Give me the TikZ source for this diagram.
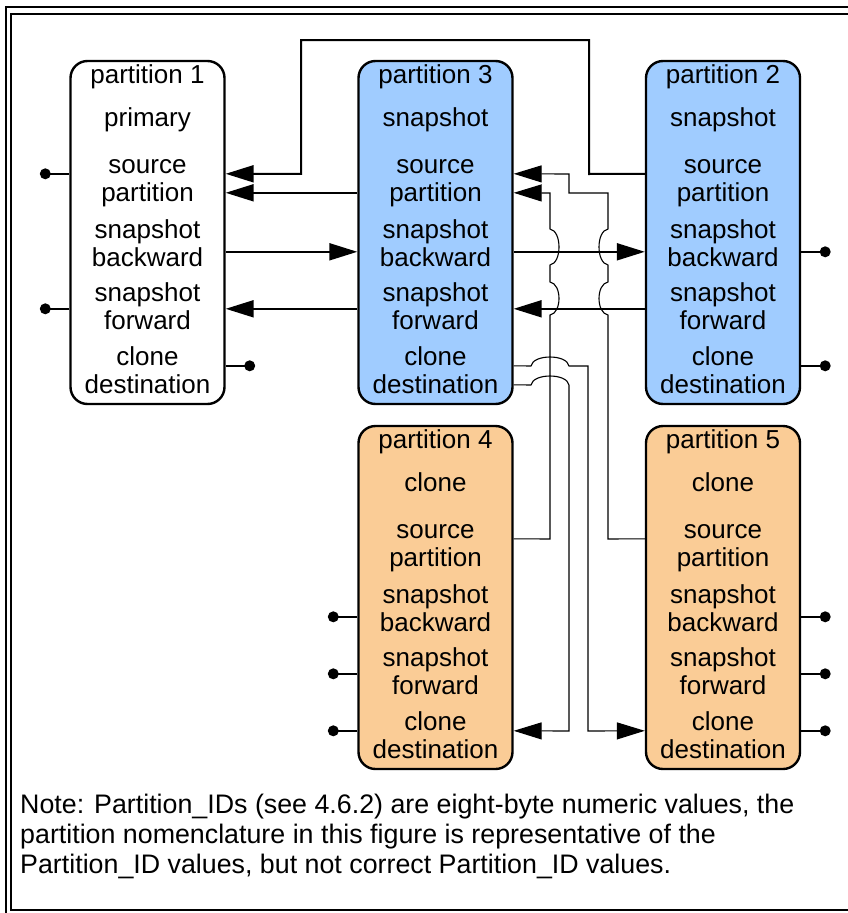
\documentclass[tikz,border=0pt]{standalone}
\usepackage{fontspec}
\setmainfont{Liberation Sans}
\usepackage{tikz}
\usetikzlibrary{arrows.meta, positioning}
\definecolor{snapblue}{RGB}{160,204,255}
\definecolor{cloneorange}{RGB}{250,204,150}
\newcommand{\partfont}{\fontsize{26}{26}\selectfont}
\newcommand{\notefont}{\fontsize{26.8}{30}\selectfont}
\tikzset{>={Triangle[length=28pt,width=17pt]}}
\tikzstyle{partbox}=[shape=rectangle,rounded corners=17pt,draw=black,line width=2.4pt,minimum width=154pt,minimum height=343pt]
\tikzstyle{field}=[align=center,font=\partfont,inner sep=0pt]
\tikzstyle{mainedge}=[<-,line width=2pt]
\tikzstyle{routedge}=[<-,line width=1.1pt]
\tikzstyle{stub}=[line width=2pt]
\tikzstyle{dot}=[shape=circle,fill=black,inner sep=0pt,minimum size=11pt]

\begin{document}
\begin{tikzpicture}[x=1pt,y=-1pt]
\useasboundingbox (0,0) rectangle (848,913);
\clip (0,0) rectangle (848,913);
% frame
\draw[line width=2pt] (5.5,6.5) rectangle (880,940);
\draw[line width=2pt] (11,13.5) rectangle (870,910);

% partitions
\foreach \n/\x/\y/\col/\role in {1/147.5/232.5/white/primary,
    3/435.5/232.5/snapblue/snapshot, 2/723/232.5/snapblue/snapshot,
    4/435.5/597.5/cloneorange/clone, 5/723/597.5/cloneorange/clone} {
  \node[partbox,fill=\col] (p\n) at (\x,\y) {};
  \node[field] (p\n_t) at ([yshift=-18pt]p\n.north) {\strut partition \n};
  \node[field] (p\n_r) at ([yshift=-61pt]p\n.north) {\strut \role};
  \node[field] (p\n_s) at ([yshift=-122.5pt]p\n.north) {\strut source\\\strut partition};
  \node[field] (p\n_b) at ([yshift=-187pt]p\n.north) {\strut snapshot\\\strut backward};
  \node[field] (p\n_f) at ([yshift=-250pt]p\n.north) {\strut snapshot\\\strut forward};
  \node[field] (p\n_c) at ([yshift=-314pt]p\n.north) {\strut clone\\\strut destination};
  \coordinate (p\n_sa) at ([yshift=-114pt]p\n.north);
  \coordinate (p\n_sb) at ([yshift=-133pt]p\n.north);
  \coordinate (p\n_bw) at ([yshift=-192pt]p\n.north);
  \coordinate (p\n_fw) at ([yshift=-249pt]p\n.north);
  \coordinate (p\n_ca) at ([yshift=-306pt]p\n.north);
  \coordinate (p\n_cb) at ([yshift=-325pt]p\n.north);
}

% open ends
\draw[stub] (p1.west |- p1_sa) -- ++(-24,0) node[dot] (p1_sadot) {};
\draw[stub] (p1.west |- p1_fw) -- ++(-24,0) node[dot] (p1_fwdot) {};
\draw[stub] (p1.east |- p1_ca) -- ++(24,0) node[dot] (p1_cadot) {};
\draw[stub] (p2.east |- p2_bw) -- ++(24,0) node[dot] (p2_bwdot) {};
\draw[stub] (p2.east |- p2_ca) -- ++(24,0) node[dot] (p2_cadot) {};
\draw[stub] (p4.west |- p4_bw) -- ++(-24,0) node[dot] (p4_bwdot) {};
\draw[stub] (p4.west |- p4_fw) -- ++(-24,0) node[dot] (p4_fwdot) {};
\draw[stub] (p4.west |- p4_ca) -- ++(-24,0) node[dot] (p4_cadot) {};
\draw[stub] (p5.east |- p5_bw) -- ++(24,0) node[dot] (p5_bwdot) {};
\draw[stub] (p5.east |- p5_fw) -- ++(24,0) node[dot] (p5_fwdot) {};
\draw[stub] (p5.east |- p5_ca) -- ++(24,0) node[dot] (p5_cadot) {};

% snapshot links
\draw[mainedge] (p1.east |- p1_sa) -| (301,40) -| (589,174) -- (p2.west |- p2_sa);
\draw[mainedge] (p1.east |- p1_sb) -- (p3.west |- p3_sb);
\draw[mainedge] (p3.west |- p3_bw) -- (p1.east |- p1_bw);
\draw[mainedge] (p1.east |- p1_fw) -- (p3.west |- p3_fw);
\draw[mainedge] (p2.west |- p2_bw) -- (p3.east |- p3_bw);
\draw[mainedge] (p3.east |- p3_fw) -- (p2.west |- p2_fw);

% clone links
\draw[routedge] (p3.east |- p3_sa) -- (569,174) -- (569,193) -- (608,193) -- (608,229)
  .. controls (596,231) and (596,263) .. (608,265) -- (608,282)
  .. controls (596,284) and (596,313) .. (608,315) -- (608,539) -- (p5.west |- p5_sa);
\draw[routedge] (p3.east |- p3_sb) -- (550,193) -- (550,229)
  .. controls (562,231) and (562,263) .. (550,265) -- (550,282)
  .. controls (562,284) and (562,313) .. (550,315) -- (550,539) -- (p4.east |- p4_sa);
\draw[routedge] (p5.west |- p5_ca) -- (588,731) -- (588,366) -- (569,366)
  .. controls (567,354) and (533,354) .. (531,366) -- (p3.east |- p3_ca);
\draw[routedge] (p4.east |- p4_ca) -- (569,731) -- (569,385)
  .. controls (567,373) and (533,373) .. (531,385) -- (p3.east |- p3_cb);

% note
\node[anchor=north west,align=left,font=\notefont,inner sep=0pt] (note) at (20,792)
  {\strut Note: Partition\_IDs (see 4.6.2) are eight-byte numeric values, the\\
   \strut partition nomenclature in this figure is representative of the\\
   \strut Partition\_ID values, but not correct Partition\_ID values.};
\end{tikzpicture}
\end{document}
